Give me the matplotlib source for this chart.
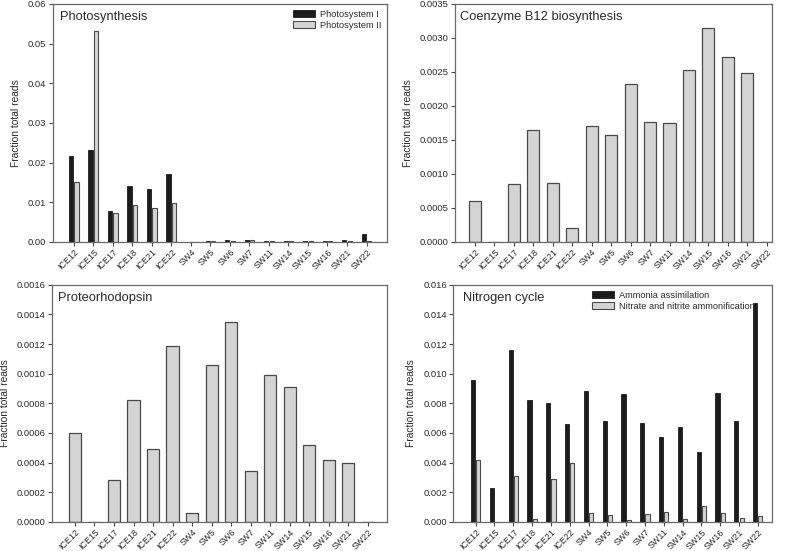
import numpy as np
import matplotlib
matplotlib.use("Agg")
import matplotlib.pyplot as plt
from matplotlib.ticker import FormatStrFormatter

plt.rcParams["font.family"] = ["Liberation Sans", "DejaVu Sans"]

samples = ["ICE12", "ICE15", "ICE17", "ICE18", "ICE21", "ICE22", "SW4", "SW5",
           "SW6", "SW7", "SW11", "SW14", "SW15", "SW16", "SW21", "SW22"]

photosystem_1 = [0.0217, 0.0231, 0.0077, 0.0141, 0.0134, 0.0172, 0.0, 0.0002,
                 0.0005, 0.0006, 0.0003, 0.0002, 0.0002, 0.0003, 0.0005, 0.0019]
photosystem_2 = [0.0151, 0.0532, 0.0073, 0.0092, 0.0086, 0.0097, 0.0, 0.0002,
                 0.0002, 0.0006, 0.0003, 0.0001, 0.0002, 0.0002, 0.0003, 0.0003]

coenzyme_b12 = [0.00060, 0.0, 0.00085, 0.00164, 0.00086, 0.00020, 0.00171, 0.00157,
                0.00232, 0.00177, 0.00175, 0.00253, 0.00314, 0.00272, 0.00249, 0.0]

proteorhodopsin = [0.00060, 0.0, 0.000284, 0.00082, 0.00049, 0.00119, 0.00006, 0.00106,
                   0.00135, 0.000345, 0.00099, 0.00091, 0.00052, 0.00042, 0.00040, 0.0]

ammonia = [0.0096, 0.0023, 0.0116, 0.0082, 0.0080, 0.0066, 0.0088, 0.0068,
           0.0086, 0.0067, 0.0057, 0.0064, 0.0047, 0.0087, 0.0068, 0.0148]
nitrate_nitrite = [0.0042, 0.0, 0.0031, 0.0002, 0.0029, 0.0040, 0.0006, 0.00045,
                   0.0001, 0.0005, 0.00065, 0.0002, 0.00105, 0.0006, 0.00025, 0.0004]

DARK = "#1c1c1c"
LIGHT = "#d4d4d4"
EDGE = "#4a4a4a"
TXT = "#2b2b2b"


def style_axes(ax, ylim, yfmt, xlim, title, title_x):
    x = np.arange(len(samples))
    ax.set_xticks(x)
    ax.set_xticklabels(samples, rotation=45, ha="right", rotation_mode="anchor",
                       fontsize=6.4, color=TXT)
    ax.set_xlim(*xlim)
    ax.set_ylim(*ylim)
    ax.yaxis.set_major_formatter(FormatStrFormatter(yfmt))
    ax.tick_params(axis="y", labelsize=6.8, labelcolor=TXT, length=3,
                   color=EDGE, pad=1.5)
    ax.tick_params(axis="x", length=3, color=EDGE, pad=1.2)
    for s in ax.spines.values():
        s.set_color("#6a6a6a")
        s.set_linewidth(0.9)
    ax.set_ylabel("Fraction total reads", fontsize=7.4, color=TXT, labelpad=5)
    ax.text(title_x, 0.945, title, transform=ax.transAxes, fontsize=9.3,
            color=TXT, va="center", ha="left")


def paired(ax, a, b, la, lb, leg_x):
    x = np.arange(len(samples))
    w = 0.22
    ax.bar(x - 0.14, a, w, color=DARK, edgecolor=DARK, linewidth=0.6, label=la)
    ax.bar(x + 0.14, b, w, color=LIGHT, edgecolor=EDGE, linewidth=0.8, label=lb)
    ax.legend(loc="upper left", bbox_to_anchor=(leg_x, 0.975), frameon=False,
              fontsize=6.7, handlelength=2.35, handleheight=0.7,
              handletextpad=0.55, labelspacing=0.2, borderpad=0,
              borderaxespad=0, labelcolor=TXT)


def single(ax, vals):
    x = np.arange(len(samples))
    ax.bar(x, vals, 0.62, color=LIGHT, edgecolor=EDGE, linewidth=0.9)


fig = plt.figure(figsize=(7.87, 5.51), dpi=100)
ax1 = fig.add_axes([0.067, 0.561, 0.425, 0.432])
ax2 = fig.add_axes([0.578, 0.561, 0.403, 0.432])
ax3 = fig.add_axes([0.066, 0.053, 0.426, 0.430])
ax4 = fig.add_axes([0.576, 0.053, 0.405, 0.430])

paired(ax1, photosystem_1, photosystem_2, "Photosystem I", "Photosystem II", 0.719)
style_axes(ax1, (0, 0.06), "%.2f", (-1.08, 16.06), "Photosynthesis", 0.021)

single(ax2, coenzyme_b12)
style_axes(ax2, (0, 0.0035), "%.4f", (-1.03, 15.27),
           "Coenzyme B12 biosynthesis", 0.016)

single(ax3, proteorhodopsin)
style_axes(ax3, (0, 0.0016), "%.4f", (-1.18, 16.0), "Proteorhodopsin", 0.018)

paired(ax4, ammonia, nitrate_nitrite, "Ammonia assimilation",
       "Nitrate and nitrite ammonification", 0.436)
style_axes(ax4, (0, 0.016), "%.3f", (-1.19, 15.76), "Nitrogen cycle", 0.031)

fig.savefig("out.png", dpi=100)
